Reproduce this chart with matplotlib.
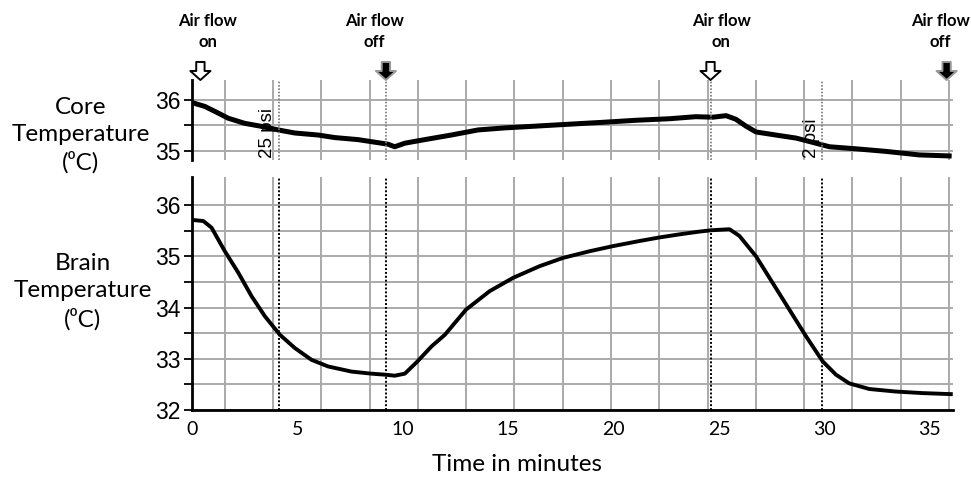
import matplotlib
matplotlib.use("Agg")
import matplotlib.pyplot as plt
import matplotlib.transforms as mtrans

# core temperature (top trace)
core_t = [0.05, 0.14, 0.62, 1.25, 1.72, 2.5, 3.3, 4.09, 4.88, 5.99, 6.78, 7.88, 8.83, 9.3, 9.62,
          10.1, 11.04, 12.3, 13.57, 14.83, 16.1, 17.36, 18.63, 19.5, 21.07, 22.65, 23.9, 24.7,
          25.34, 25.8, 26.3, 26.76, 27.7, 28.66, 29.6, 30.24, 31.5, 32.9, 34.5, 35.92]
core_temp = [35.94, 35.93, 35.87, 35.74, 35.64, 35.54, 35.48, 35.41, 35.35, 35.31, 35.26, 35.22,
             35.16, 35.13, 35.08, 35.15, 35.22, 35.31, 35.41, 35.45, 35.48, 35.51, 35.54, 35.56,
             35.60, 35.63, 35.67, 35.66, 35.69, 35.62, 35.48, 35.37, 35.31, 35.25, 35.15, 35.08,
             35.04, 34.99, 34.92, 34.90]

# brain temperature (bottom trace)
brain_t = [0.05, 0.54, 0.93, 1.56, 2.2, 2.83, 3.46, 4.17, 4.88, 5.67, 6.46, 7.57, 8.5, 9.15, 9.62,
           10.1, 10.7, 11.36, 12.0, 13.0, 14.12, 15.23, 16.5, 17.6, 18.86, 19.97, 21.23, 22.18,
           23.13, 24.0, 24.63, 25.5, 25.97, 26.76, 27.55, 28.34, 29.13, 29.92, 30.55, 31.18,
           32.13, 33.4, 34.66, 36.0]
brain_temp = [35.71, 35.69, 35.56, 35.10, 34.68, 34.22, 33.83, 33.47, 33.21, 32.98, 32.85, 32.75,
              32.71, 32.69, 32.67, 32.71, 32.95, 33.24, 33.47, 33.96, 34.32, 34.58, 34.81, 34.97,
              35.10, 35.20, 35.30, 35.37, 35.43, 35.48, 35.51, 35.53, 35.40, 35.00, 34.48, 33.96,
              33.44, 32.95, 32.69, 32.52, 32.41, 32.36, 32.33, 32.31]

pressure_lines = [4.15, 9.2, 24.6, 29.9]
airflow_x = [0.4, 9.2, 24.6, 35.8]
airflow_state = ["on", "off", "on", "off"]
airflow_text_x = [0.76, 8.67, 25.1, 35.5]
psi_labels = [(3.6, "25 psi"), (29.4, "2 psi")]
grid_x = [1.56, 3.85, 6.14, 8.43, 10.72, 13.01, 15.30, 17.59, 19.88, 22.17, 24.46,
          26.75, 29.04, 31.33, 33.62, 35.91]

txt_font = ["Lato", "DejaVu Sans"]
num_font = ["Liberation Sans Narrow", "Liberation Sans", "DejaVu Sans"]
grid_col = "#aaaaaa"

fig = plt.figure(figsize=(9.71, 4.84), dpi=100)
ax1 = fig.add_axes([0.1977, 0.6694, 0.7837, 0.1653])
ax2 = fig.add_axes([0.1977, 0.1529, 0.7837, 0.4814])

for ax in (ax1, ax2):
    ax.set_xlim(0, 36.1)
    for s in ("top", "right"):
        ax.spines[s].set_visible(False)
    ax.spines["left"].set_linewidth(2)
    ax.set_xticks(grid_x, minor=True)
    ax.grid(which="minor", axis="x", color=grid_col, lw=1.4)
    ax.grid(which="both", axis="y", color=grid_col, lw=1.4)
    ax.tick_params(axis="x", which="both", length=0)
    ax.tick_params(axis="y", which="both", length=6, width=1.3, pad=2)
    ax.set_axisbelow(True)

# top panel
ax1.spines["bottom"].set_visible(False)
ax1.set_ylim(34.82, 36.39)
ax1.set_yticks([35, 36])
ax1.set_yticks([35.5], minor=True)
ax1.set_xticks([])
ax1.plot(core_t, core_temp, color="black", lw=3.6)
for x in pressure_lines:
    ax1.axvline(x, color="#777777", lw=1.2, ls=(0, (1, 1)))

# bottom panel
ax2.spines["bottom"].set_linewidth(2)
ax2.set_ylim(32, 36.55)
ax2.set_yticks([32, 33, 34, 35, 36])
ax2.set_yticks([32.5, 33.5, 34.5, 35.5], minor=True)
ax2.set_xticks([0, 5, 10, 15, 20, 25, 30, 35])
ax2.tick_params(axis="x", pad=8)
ax2.plot(brain_t, brain_temp, color="black", lw=2.8)
for x in pressure_lines:
    ax2.axvline(x, color="black", lw=1.4, ls=(0, (1, 1)))

for ax in (ax1, ax2):
    for lab in ax.get_yticklabels():
        lab.set_fontfamily(num_font)
        lab.set_fontsize(16.5)
for lab in ax2.get_xticklabels():
    lab.set_fontfamily(txt_font)
    lab.set_fontsize(14)

# psi labels
for x, s in psi_labels:
    ax1.text(x, 34.86, s, rotation=90, ha="center", va="bottom",
             fontsize=13.5, family=num_font)

# air flow arrows and labels
tr = mtrans.blended_transform_factory(ax1.transData, fig.transFigure)
for x, st, tx in zip(airflow_x, airflow_state, airflow_text_x):
    if st == "on":
        fc, ec = "white", "black"
    else:
        fc, ec = "black", "#999999"
    ax1.annotate("", xy=(x, 1.0), xycoords=ax1.get_xaxis_transform(),
                 xytext=(0, 13), textcoords="offset points",
                 arrowprops=dict(arrowstyle="simple,head_length=0.65,head_width=1.45,tail_width=0.6",
                                 fc=fc, ec=ec, lw=1.4, shrinkA=0, shrinkB=0),
                 annotation_clip=False)
    ax1.text(tx, 0.935, "Air flow\n" + st, transform=tr, ha="center", va="center",
             fontsize=12, fontweight="bold", family=txt_font, linespacing=1.45)

# side labels and axis title
fig.text(0.083, 0.72, "Core\nTemperature\n(\u2070C)", ha="center", va="center",
         fontsize=17.5, family=txt_font, linespacing=1.35)
fig.text(0.085, 0.397, "Brain\nTemperature\n(\u2070C)", ha="center", va="center",
         fontsize=17.5, family=txt_font, linespacing=1.35)
fig.text(0.532, 0.04, "Time in minutes", ha="center", va="center",
         fontsize=17.5, family=txt_font)

fig.savefig("out.png", dpi=100)
